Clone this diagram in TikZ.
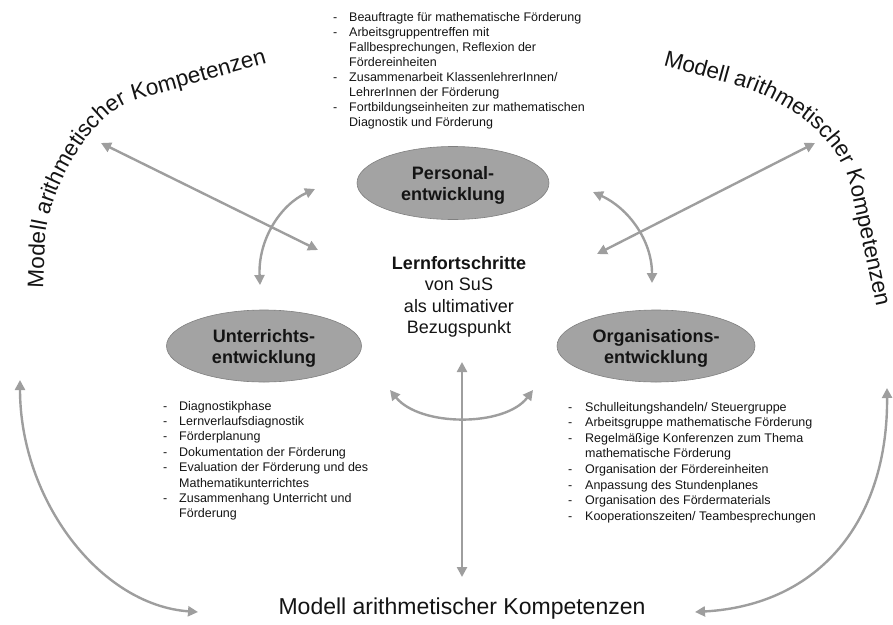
\documentclass[tikz,border=0pt]{standalone}
\usepackage{fontspec}
\setmainfont{Liberation Sans}
\usetikzlibrary{arrows.meta,decorations.text,shapes.geometric}
\definecolor{arrowgray}{RGB}{158,158,158}
\definecolor{ovalfill}{RGB}{163,163,163}
\definecolor{ovalline}{RGB}{128,128,128}
\definecolor{ink}{RGB}{20,20,20}
\begin{document}
\begin{tikzpicture}[x=1pt,y=-1pt,
  link/.style={draw=arrowgray, line width=2.4pt,
    {Triangle[length=10pt,width=10pt]}-{Triangle[length=10pt,width=10pt]}},
  oval/.style={ellipse, fill=ovalfill, draw=ovalline, line width=0.6pt, inner sep=0pt,
    font=\fontsize{18}{21}\selectfont\bfseries, text=ink, align=center, text depth=0pt},
  bullets/.style={anchor=base west, inner sep=0pt, text=ink},
  core/.style={anchor=base, inner sep=0pt, text=ink, font=\fontsize{18}{21.5}\selectfont},
  arctext/.style={decorate, decoration={text along path, text align=left,
    text={|\fontsize{22.5}{27}\selectfont\color{ink}|Modell arithmetischer Kompetenzen}}}
]
\useasboundingbox (0,0) rectangle (893,624);

% the three development areas
\node[oval, minimum width=192pt, minimum height=73pt] (pers) at (453,183) {Personal-\\entwicklung};
\node[oval, minimum width=195pt, minimum height=72pt] (unt) at (264,346) {Unterrichts-\\entwicklung};
\node[oval, minimum width=198pt, minimum height=72pt] (org) at (656,346) {Organisations-\\entwicklung};

% central reference point
\node[core] (goal) at (459,269) {\begin{tabular}[t]{@{}c@{}}
  \textbf{Lernfortschritte}\\ von SuS\\ als ultimativer\\ Bezugspunkt\end{tabular}};

% item lists
\node[bullets, font=\fontsize{12.5}{15}\selectfont] (plist) at (333,21) {\begin{tabular}[t]{@{}p{16pt}@{}l@{}}
  -& Beauftragte für mathematische Förderung\\
  -& Arbeitsgruppentreffen mit\\
   & Fallbesprechungen, Reflexion der\\
   & Fördereinheiten\\
  -& Zusammenarbeit KlassenlehrerInnen/\\
   & LehrerInnen der Förderung\\
  -& Fortbildungseinheiten zur mathematischen\\
   & Diagnostik und Förderung
\end{tabular}};

\node[bullets, font=\fontsize{12.5}{15.4}\selectfont] (ulist) at (163,410) {\begin{tabular}[t]{@{}p{16pt}@{}l@{}}
  -& Diagnostikphase\\
  -& Lernverlaufsdiagnostik\\
  -& Förderplanung\\
  -& Dokumentation der Förderung\\
  -& Evaluation der Förderung und des\\
   & Mathematikunterrichtes\\
  -& Zusammenhang Unterricht und\\
   & Förderung
\end{tabular}};

\node[bullets, font=\fontsize{12.5}{15.6}\selectfont] (olist) at (568,411) {\begin{tabular}[t]{@{}p{17pt}@{}l@{}}
  -& Schulleitungshandeln/ Steuergruppe\\
  -& Arbeitsgruppe mathematische Förderung\\
  -& Regelmäßige Konferenzen zum Thema\\
   & mathematische Förderung\\
  -& Organisation der Fördereinheiten\\
  -& Anpassung des Stundenplanes\\
  -& Organisation des Fördermaterials\\
  -& Kooperationszeiten/ Teambesprechungen
\end{tabular}};

% the model around the whole picture
\node[anchor=base, inner sep=0pt, text=ink, font=\fontsize{23}{27}\selectfont] (model) at (462,614) {Modell arithmetischer Kompetenzen};
\path[arctext] (43,288) -- (45,240) .. controls (47,195) and (90,113) .. (135,100) -- (267,63) -- (310,51);
\path[arctext] (663,65) -- (735,85) .. controls (783,98) and (839,136) .. (850,185) -- (876,305) -- (884,340);

% arrow end points
\coordinate (dl1) at (101,143); \coordinate (dl2) at (318,250);
\coordinate (dr1) at (815,143); \coordinate (dr2) at (597,254);
\coordinate (al1) at (315,189); \coordinate (al2) at (260,285);
\coordinate (ar1) at (593,192); \coordinate (ar2) at (652,283);
\coordinate (vt) at (462,362);  \coordinate (vb) at (462,577);
\coordinate (cl) at (390,390);  \coordinate (cr) at (533,390);
\coordinate (bl1) at (20,380);  \coordinate (bl2) at (198,612);
\coordinate (br1) at (887,388); \coordinate (br2) at (695,612);

% connectors
\draw[link] (dl1) -- (dl2);
\draw[link] (dr1) -- (dr2);
\draw[link] (al1) .. controls (280,205) and (258,240) .. (al2);
\draw[link] (ar1) .. controls (628,208) and (652,240) .. (ar2);
\draw[link] (vt) -- (vb);
\draw[link] (cl) .. controls (420,427) and (505,427) .. (cr);
\draw[link] (bl1) .. controls (20,500) and (100,605) .. (bl2);
\draw[link] (br1) .. controls (888,520) and (820,605) .. (br2);
\end{tikzpicture}
\end{document}
